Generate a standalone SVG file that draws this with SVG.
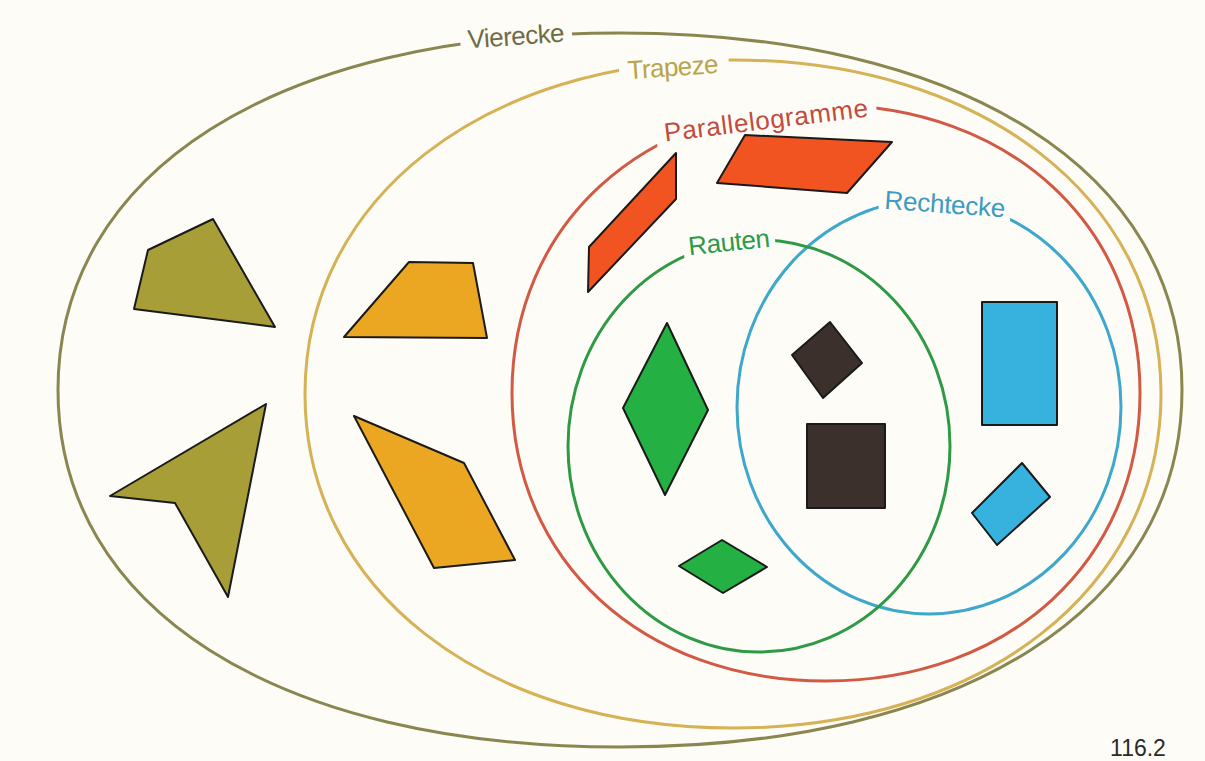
<svg xmlns="http://www.w3.org/2000/svg" width="1205" height="761" viewBox="0 0 1205 761">
<style>
.set{fill:none;stroke-width:3}
.lbl{font-family:"Liberation Sans",Arial,sans-serif;font-size:26px}
.bg{fill:#fdfcf6}
.sh{stroke:#1a1a1a;stroke-width:2;stroke-linejoin:round}
.ol{fill:#a79e38}.or{fill:#eba722}.rd{fill:#f15420}.gr{fill:#24b043}.bk{fill:#3b302b}.bl{fill:#37b1dd}
</style>
<rect width="1205" height="761" fill="#fdfcf6"/>
<g id="vierecke">
<path class="set" stroke="#8a8650" d="M1182,390 C1182,608.5 963.9,747 620,747 C276.1,747 58,608.5 58,390 C58,171.5 276.1,33 620,33 C963.9,33 1182,171.5 1182,390Z"/>
<rect class="bg" x="460" y="18" width="112" height="34" transform="rotate(-4 516 36)"/>
<text class="lbl" x="516" y="45" text-anchor="middle" fill="#6e6c46" textLength="97" transform="rotate(-4 516 36)">Vierecke</text>
</g>
<g id="trapeze">
<path class="set" stroke="#d5b256" d="M1161,394 C1161,589.1 983,728 733,728 C483,728 305,589.1 305,394 C305,198.9 483,60 733,60 C983,60 1161,198.9 1161,394Z"/>
<rect class="bg" x="619" y="50" width="110" height="34" transform="rotate(-4 673 67)"/>
<text class="lbl" x="673" y="76" text-anchor="middle" fill="#b9a44c" textLength="91" transform="rotate(-4 673 67)">Trapeze</text>
</g>
<g id="parallelogramme">
<path class="set" stroke="#d25a45" d="M1140,393 C1140,561.2 1009.4,681 826,681 C642.6,681 512,561.2 512,393 C512,224.8 642.6,105 826,105 C1009.4,105 1140,224.8 1140,393Z"/>
<rect class="bg" x="655" y="102" width="222" height="34" transform="rotate(-7 766 120)"/>
<text class="lbl" x="766" y="129" text-anchor="middle" fill="#c34a3c" textLength="205" transform="rotate(-7 766 120)">Parallelogramme</text>
</g>
<g id="rechtecke">
<ellipse class="set" cx="929" cy="407" rx="192" ry="207" stroke="#3ea8cc"/>
<rect class="bg" x="879" y="188" width="132" height="32" transform="rotate(4 945 204)"/>
<text class="lbl" x="945" y="213" text-anchor="middle" fill="#3b9bc0" textLength="121" transform="rotate(4 945 204)">Rechtecke</text>
</g>
<g id="rauten">
<ellipse class="set" cx="759" cy="446" rx="191" ry="206" stroke="#2f9a45"/>
<rect class="bg" x="683" y="226" width="92" height="32" transform="rotate(-6 729 242)"/>
<text class="lbl" x="729" y="251" text-anchor="middle" fill="#2e9a48" textLength="82" transform="rotate(-6 729 242)">Rauten</text>
</g>
<g id="shape-viereck-1"><polygon class="sh ol" points="148,250 213,219 275,327 134,309"/></g>
<g id="shape-viereck-2"><polygon class="sh ol" points="266,404 110,496 175,503 228,597"/></g>
<g id="shape-trapez-1"><polygon class="sh or" points="409,262 473,263 487,338 344,337"/></g>
<g id="shape-trapez-2"><polygon class="sh or" points="354,416 464,463 515,560 434,568"/></g>
<g id="shape-para-1"><polygon class="sh rd" points="676,153 676,199 588,292 589,247"/></g>
<g id="shape-para-2"><polygon class="sh rd" points="745,135 892,142 847,193 717,183"/></g>
<g id="shape-raute-1"><polygon class="sh gr" points="667,323 708,410 665,495 623,408"/></g>
<g id="shape-raute-2"><polygon class="sh gr" points="722,540 767,567 723,593 679,566"/></g>
<g id="shape-quadrat-1"><polygon class="sh bk" points="830,322 862,363 823,398 792,355"/></g>
<g id="shape-quadrat-2"><polygon class="sh bk" points="807,424 885,424 885,508 807,508"/></g>
<g id="shape-rechteck-1"><polygon class="sh bl" points="982,302 1057,302 1057,425 982,425"/></g>
<g id="shape-rechteck-2"><polygon class="sh bl" points="1022,463 1050,497 997,545 972,513"/></g>
<text x="1138" y="756" text-anchor="middle" font-family="Liberation Sans,Arial,sans-serif" font-size="23" fill="#2a2a2a">116.2</text>
</svg>
